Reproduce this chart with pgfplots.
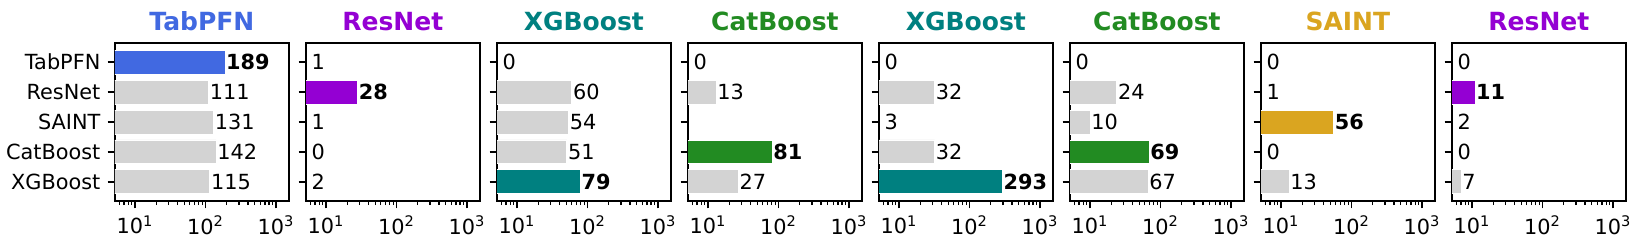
\documentclass[border=0pt]{standalone}
\usepackage{fontspec}
\setmainfont{DejaVu Sans}
\usepackage{pgfplots}
\pgfplotsset{compat=1.18}
\definecolor{cTab}{HTML}{4169E1}
\definecolor{cRes}{HTML}{9400D3}
\definecolor{cXGB}{HTML}{008080}
\definecolor{cCat}{HTML}{228B22}
\definecolor{cSAINT}{HTML}{DAA520}
\definecolor{cGray}{HTML}{D3D3D3}
\pgfplotsset{
  scale only axis, width=83.4pt, height=75.84pt,
  xmin=5.2, xmax=1520,
  ymin=-0.64, ymax=4.64, y dir=reverse,
  ytick={0,1,2,3,4}, yticklabels={},
  xtick={10,100,1000},
  xticklabels={10\textsuperscript{1},10\textsuperscript{2},10\textsuperscript{3}},
  minor xtick={6,7,8,9,20,30,40,50,60,70,80,90,200,300,400,500,600,700,800,900},
  tick align=outside, tick pos=left,
  major tick length=3.5pt, minor tick length=2pt,
  every major tick/.append style={black, line width=0.8pt},
  every minor tick/.append style={black, line width=0.6pt},
  axis line style={line width=0.8pt},
  tick label style={font=\fontsize{10}{12}\selectfont},
  title style={font=\bfseries\fontsize{12}{14}\selectfont, yshift=-3.5pt},
  nodes near coords style={anchor=west, inner sep=0.4pt, font=\fontsize{10}{12}\selectfont, text=black},
}
\begin{document}
\begin{tikzpicture}
\path[use as bounding box] (-55.2pt,-23.52pt) rectangle (734.4pt,96.48pt);
% Panel 1
\begin{axis}[xmode=log, anchor=south west, at={(0pt,0pt)}, title={TabPFN}, title style={text=cTab},
  yticklabels={TabPFN,ResNet,SAINT,CatBoost,XGBoost}]
\addplot[xbar, bar shift=0pt, bar width=0.8, fill=cGray, draw=white, line width=0.4pt] coordinates {(111,1) (131,2) (142,3) (115,4)};
\addplot[xbar, bar shift=0pt, bar width=0.8, fill=cTab, draw=white, line width=0.4pt] coordinates {(189,0)};
\addplot[only marks, mark=none, nodes near coords, point meta=explicit symbolic] coordinates {(111,1) [111] (131,2) [131] (142,3) [142] (115,4) [115]};
\addplot[only marks, mark=none, nodes near coords, point meta=explicit symbolic, nodes near coords style={font=\bfseries\fontsize{10}{12}\selectfont}] coordinates {(189,0) [189]};
\end{axis}
% Panel 2
\begin{axis}[xmode=log, anchor=south west, at={(91.68pt,0pt)}, title={ResNet}, title style={text=cRes}]
\addplot[xbar, bar shift=0pt, bar width=0.8, fill=cGray, draw=white, line width=0.4pt] coordinates {(1,0) (1,2) (2,4)};
\addplot[xbar, bar shift=0pt, bar width=0.8, fill=cRes, draw=white, line width=0.4pt] coordinates {(28,1)};
\addplot[only marks, mark=none, nodes near coords, point meta=explicit symbolic] coordinates {(6.0,0) [1] (6.0,2) [1] (6.0,3) [0] (6.0,4) [2]};
\addplot[only marks, mark=none, nodes near coords, point meta=explicit symbolic, nodes near coords style={font=\bfseries\fontsize{10}{12}\selectfont}] coordinates {(28,1) [28]};
\end{axis}
% Panel 3
\begin{axis}[xmode=log, anchor=south west, at={(183.36pt,0pt)}, title={XGBoost}, title style={text=cXGB}]
\addplot[xbar, bar shift=0pt, bar width=0.8, fill=cGray, draw=white, line width=0.4pt] coordinates {(60,1) (54,2) (51,3)};
\addplot[xbar, bar shift=0pt, bar width=0.8, fill=cXGB, draw=white, line width=0.4pt] coordinates {(79,4)};
\addplot[only marks, mark=none, nodes near coords, point meta=explicit symbolic] coordinates {(6.0,0) [0] (60,1) [60] (54,2) [54] (51,3) [51]};
\addplot[only marks, mark=none, nodes near coords, point meta=explicit symbolic, nodes near coords style={font=\bfseries\fontsize{10}{12}\selectfont}] coordinates {(79,4) [79]};
\end{axis}
% Panel 4
\begin{axis}[xmode=log, anchor=south west, at={(275.04pt,0pt)}, title={CatBoost}, title style={text=cCat}]
\addplot[xbar, bar shift=0pt, bar width=0.8, fill=cGray, draw=white, line width=0.4pt] coordinates {(13,1) (5,2) (27,4)};
\addplot[xbar, bar shift=0pt, bar width=0.8, fill=cCat, draw=white, line width=0.4pt] coordinates {(81,3)};
\addplot[only marks, mark=none, nodes near coords, point meta=explicit symbolic] coordinates {(6.0,0) [0] (13,1) [13] (5,2) [5] (27,4) [27]};
\addplot[only marks, mark=none, nodes near coords, point meta=explicit symbolic, nodes near coords style={font=\bfseries\fontsize{10}{12}\selectfont}] coordinates {(81,3) [81]};
\end{axis}
% Panel 5
\begin{axis}[xmode=log, anchor=south west, at={(366.72pt,0pt)}, title={XGBoost}, title style={text=cXGB}]
\addplot[xbar, bar shift=0pt, bar width=0.8, fill=cGray, draw=white, line width=0.4pt] coordinates {(32,1) (3,2) (32,3)};
\addplot[xbar, bar shift=0pt, bar width=0.8, fill=cXGB, draw=white, line width=0.4pt] coordinates {(293,4)};
\addplot[only marks, mark=none, nodes near coords, point meta=explicit symbolic] coordinates {(6.0,0) [0] (32,1) [32] (6.0,2) [3] (32,3) [32]};
\addplot[only marks, mark=none, nodes near coords, point meta=explicit symbolic, nodes near coords style={font=\bfseries\fontsize{10}{12}\selectfont}] coordinates {(293,4) [293]};
\end{axis}
% Panel 6
\begin{axis}[xmode=log, anchor=south west, at={(458.4pt,0pt)}, title={CatBoost}, title style={text=cCat}]
\addplot[xbar, bar shift=0pt, bar width=0.8, fill=cGray, draw=white, line width=0.4pt] coordinates {(24,1) (10,2) (67,4)};
\addplot[xbar, bar shift=0pt, bar width=0.8, fill=cCat, draw=white, line width=0.4pt] coordinates {(69,3)};
\addplot[only marks, mark=none, nodes near coords, point meta=explicit symbolic] coordinates {(6.0,0) [0] (24,1) [24] (10,2) [10] (67,4) [67]};
\addplot[only marks, mark=none, nodes near coords, point meta=explicit symbolic, nodes near coords style={font=\bfseries\fontsize{10}{12}\selectfont}] coordinates {(69,3) [69]};
\end{axis}
% Panel 7
\begin{axis}[xmode=log, anchor=south west, at={(550.08pt,0pt)}, title={SAINT}, title style={text=cSAINT}]
\addplot[xbar, bar shift=0pt, bar width=0.8, fill=cGray, draw=white, line width=0.4pt] coordinates {(1,1) (13,4)};
\addplot[xbar, bar shift=0pt, bar width=0.8, fill=cSAINT, draw=white, line width=0.4pt] coordinates {(56,2)};
\addplot[only marks, mark=none, nodes near coords, point meta=explicit symbolic] coordinates {(6.0,0) [0] (6.0,1) [1] (6.0,3) [0] (13,4) [13]};
\addplot[only marks, mark=none, nodes near coords, point meta=explicit symbolic, nodes near coords style={font=\bfseries\fontsize{10}{12}\selectfont}] coordinates {(56,2) [56]};
\end{axis}
% Panel 8
\begin{axis}[xmode=log, anchor=south west, at={(641.76pt,0pt)}, title={ResNet}, title style={text=cRes}]
\addplot[xbar, bar shift=0pt, bar width=0.8, fill=cGray, draw=white, line width=0.4pt] coordinates {(2,2) (7,4)};
\addplot[xbar, bar shift=0pt, bar width=0.8, fill=cRes, draw=white, line width=0.4pt] coordinates {(11,1)};
\addplot[only marks, mark=none, nodes near coords, point meta=explicit symbolic] coordinates {(6.0,0) [0] (6.0,2) [2] (6.0,3) [0] (7,4) [7]};
\addplot[only marks, mark=none, nodes near coords, point meta=explicit symbolic, nodes near coords style={font=\bfseries\fontsize{10}{12}\selectfont}] coordinates {(11,1) [11]};
\end{axis}
\end{tikzpicture}
\end{document}
